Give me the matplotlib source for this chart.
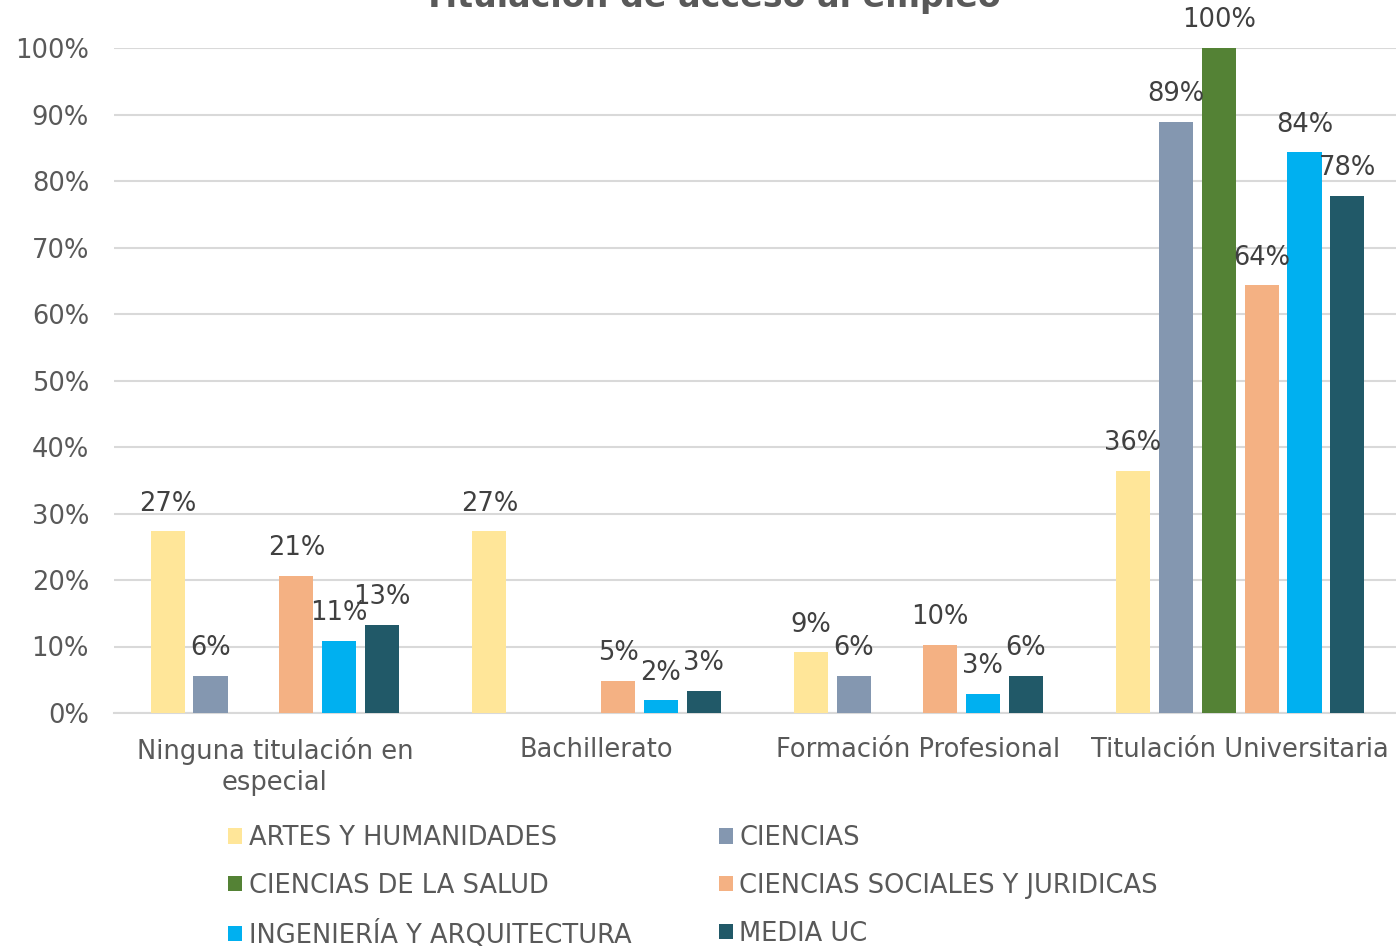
import matplotlib
matplotlib.use("Agg")
import matplotlib.pyplot as plt
import numpy as np

categories = ["Ninguna titulación en\nespecial", "Bachillerato", "Formación Profesional", "Titulación Universitaria"]
series_names = ["ARTES Y HUMANIDADES", "CIENCIAS", "CIENCIAS DE LA SALUD",
                "CIENCIAS SOCIALES Y JURIDICAS", "INGENIERÍA Y ARQUITECTURA", "MEDIA UC"]
artes = [0.273, 0.273, 0.091, 0.364]
ciencias = [0.056, 0.0, 0.056, 0.889]
salud = [0.0, 0.0, 0.0, 1.0]
sociales = [0.206, 0.048, 0.103, 0.643]
ingenieria = [0.108, 0.019, 0.029, 0.843]
media = [0.133, 0.033, 0.056, 0.777]
series_values = [artes, ciencias, salud, sociales, ingenieria, media]
colors = ["#FFE699", "#8497B0", "#548235", "#F4B183", "#00B0F0", "#215968"]
yticks = [0, 0.1, 0.2, 0.3, 0.4, 0.5, 0.6, 0.7, 0.8, 0.9, 1.0]
title = "Titulación de acceso al empleo"

TXT = "#595959"
W, H = 1396, 947
fig = plt.figure(figsize=(W / 100, H / 100), dpi=100)
plt.rcParams['font.family'] = ['DejaVu Sans']
ax = fig.add_axes([114 / W, 1 - 713 / H, 1287 / W, (713 - 48) / H])

x = np.arange(len(categories))
spacing = 0.1333
width = 0.106
for i, (vals, c, name) in enumerate(zip(series_values, colors, series_names)):
    pos = x + (i - 2.5) * spacing
    ax.bar(pos, vals, width=width, color=c, label=name, zorder=3)
    for xp, v in zip(pos, vals):
        if v > 0:
            ax.annotate(f"{v:.0%}", (xp, v), xytext=(0, 15), textcoords="offset points",
                        ha="center", va="baseline", fontsize=18.5, color="#404040",
                        annotation_clip=False, zorder=5)

ax.set_xlim(-0.5, 3.5)
ax.set_ylim(0, 1.0)
ax.set_yticks(yticks)
ax.set_yticklabels([f"{t:.0%}" for t in yticks])
ax.set_xticks(x)
ax.set_xticklabels(categories, linespacing=1.25)
ax.tick_params(axis="both", length=0, labelsize=18.5, labelcolor=TXT)
ax.tick_params(axis="y", pad=18)
ax.tick_params(axis="x", pad=17)
ax.grid(axis="y", color="#D9D9D9", linewidth=1.5, zorder=0)
ax.set_axisbelow(True)
for s in ["left", "right", "top"]:
    ax.spines[s].set_visible(False)
ax.spines["bottom"].set_color("#D9D9D9")
ax.spines["bottom"].set_linewidth(1.5)

fig.text(712 / W, 1 - 7 / H, title, ha="center", va="baseline", fontsize=24,
         fontweight="bold", color=TXT)

handles, labels = ax.get_legend_handles_labels()
order = [0, 2, 4, 1, 3, 5]
leg = fig.legend([handles[k] for k in order], [labels[k] for k in order], ncol=2,
                 loc="upper left", bbox_to_anchor=(228 / W, 1 - 825 / H), frameon=False,
                 fontsize=18.5, labelcolor=TXT, handlelength=0.55, handleheight=0.55,
                 handletextpad=0.25, labelspacing=0.85, columnspacing=3.4, borderpad=0,
                 borderaxespad=0)

fig.savefig("out.png", dpi=100)
